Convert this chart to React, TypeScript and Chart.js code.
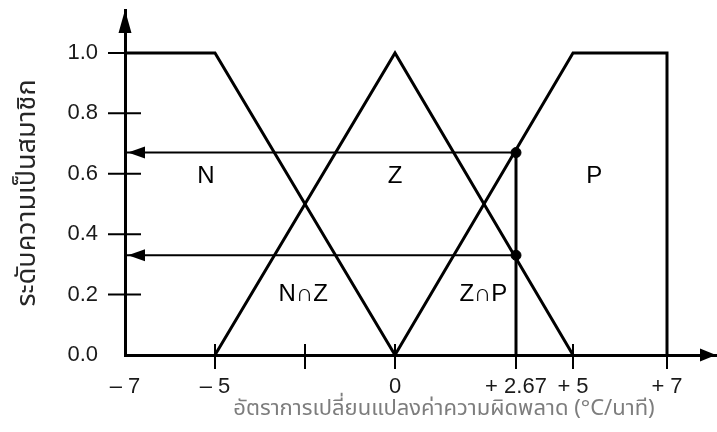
import React, { useEffect, useRef } from 'react';
import { Chart, LinearScale, registerables } from 'chart.js';

// Fuzzy sets for the rate of change of the error (°C/min)
const N_X = [-7, -5, 0];
const N_MU = [1, 1, 0];
const Z_X = [-5, 0, 5];
const Z_MU = [0, 1, 0];
const P_X = [0, 5, 7, 7];
const P_MU = [0, 1, 1, 0];

// Crisp input and the membership degrees it produces (μP, μZ)
const INPUT_X = 2.67;
const INPUT_MU = [0.67, 0.33];

// Axis ticks
const X_TICKS = [-7, -5, -2.5, 0, 2.67, 5, 7];
const X_TICK_LABELS = ['– 7', '– 5', '', '0', '+ 2.67', '+ 5', '+ 7'];
const Y_TICKS = [0, 0.2, 0.4, 0.6, 0.8, 1.0];
const Y_TICK_LABELS = ['0.0', '0.2', '0.4', '0.6', '0.8', '1.0'];

// Set names written inside the diagram
const SET_NAMES = ['N', 'Z', 'P', 'N∩Z', 'Z∩P'];
const SET_NAME_AT = [
  [-5.2, 0.59],
  [0, 0.59],
  [5.45, 0.59],
  [-2.55, 0.2],
  [1.95, 0.2],
];

const X_TITLE = 'อัตราการเปลี่ยนแปลงค่าความผิดพลาด (°C/นาที)';
const Y_TITLE = 'ระดับความเป็นสมาชิก';

// The x axis is a schematic one: each segment between these knots gets its own length
const X_AXIS_KNOTS = [-7, -5, 0, 2.67, 5, 7, 8];
const X_AXIS_STRETCH = [0, 90, 270, 391, 448, 542, 592];

function valueToDecimal(v: number) {
  const k = X_AXIS_KNOTS;
  const s = X_AXIS_STRETCH;
  const total = s[s.length - 1];
  let i = 0;
  while (i < k.length - 2 && v > k[i + 1]) i++;
  const t = (v - k[i]) / (k[i + 1] - k[i]);
  return (s[i] + t * (s[i + 1] - s[i])) / total;
}

function decimalToValue(d: number) {
  const k = X_AXIS_KNOTS;
  const s = X_AXIS_STRETCH;
  const total = s[s.length - 1];
  const p = d * total;
  let i = 0;
  while (i < s.length - 2 && p > s[i + 1]) i++;
  const t = (p - s[i]) / (s[i + 1] - s[i]);
  return k[i] + t * (k[i + 1] - k[i]);
}

class SchematicScale extends LinearScale {
  static id = 'schematic';
  static defaults = LinearScale.defaults;
  getPixelForValue(value: number) {
    if (value === null || value === undefined) return NaN;
    return this.getPixelForDecimal(valueToDecimal(value));
  }
  getValueForPixel(pixel: number) {
    return decimalToValue(this.getDecimalForPixel(pixel));
  }
}

Chart.register(...registerables, SchematicScale);

const LABEL_FONT = '"Liberation Sans", Arial, sans-serif';
const THAI_FONT = '"Noto Sans Thai", "Noto Sans Thai UI", "Leelawadee UI", Tahoma, "DejaVu Sans", sans-serif';

const pts = (xs: number[], ys: number[]) => xs.map((x, i) => ({ x, y: ys[i] }));

function arrowHead(ctx: CanvasRenderingContext2D, tipX: number, tipY: number, dx: number, dy: number, len: number, half: number) {
  // dx, dy: unit direction the arrow points to
  const bx = tipX - dx * len;
  const by = tipY - dy * len;
  ctx.beginPath();
  ctx.moveTo(tipX, tipY);
  ctx.lineTo(bx - dy * half, by + dx * half);
  ctx.lineTo(bx + dy * half, by - dx * half);
  ctx.closePath();
  ctx.fill();
}

const diagramDecor = {
  id: 'diagramDecor',
  afterDatasetsDraw(chart: any) {
    const { ctx, chartArea, scales } = chart;
    const xs = scales.x;
    const ys = scales.y;
    const x0 = xs.getPixelForValue(X_TICKS[0]);
    const y0 = ys.getPixelForValue(0);
    ctx.save();
    ctx.strokeStyle = '#000';
    ctx.fillStyle = '#000';

    // tick marks crossing the axes
    ctx.lineWidth = 2;
    Y_TICKS.forEach((v) => {
      if (v === 0) return;
      const y = ys.getPixelForValue(v);
      ctx.beginPath();
      ctx.moveTo(x0 - 17, y);
      ctx.lineTo(x0 + 16, y);
      ctx.stroke();
    });
    X_TICKS.forEach((v) => {
      if (v === X_TICKS[0]) return;
      const x = xs.getPixelForValue(v);
      ctx.beginPath();
      ctx.moveTo(x, y0 - 11);
      ctx.lineTo(x, y0 + 14);
      ctx.stroke();
    });

    // axis arrow heads
    arrowHead(ctx, x0, chartArea.top, 0, -1, 23, 6.5);
    arrowHead(ctx, chartArea.right - 1, y0, 1, 0, 16, 6.5);

    // arrow heads of the projections onto the membership axis
    INPUT_MU.forEach((mu) => {
      arrowHead(ctx, x0 + 3, ys.getPixelForValue(mu), -1, 0, 17, 6);
    });

    // set names
    ctx.font = `24px ${LABEL_FONT}`;
    ctx.textAlign = 'center';
    ctx.textBaseline = 'middle';
    SET_NAMES.forEach((name, i) => {
      const [vx, vy] = SET_NAME_AT[i];
      ctx.fillText(name, xs.getPixelForValue(vx), ys.getPixelForValue(vy));
    });

    // axis titles
    ctx.fillStyle = '#7d7d7d';
    ctx.font = `22px ${THAI_FONT}`;
    ctx.fillText(X_TITLE, 444, 411);

    ctx.fillStyle = '#262626';
    ctx.font = `27px ${THAI_FONT}`;
    ctx.translate(30, 193);
    ctx.rotate(-Math.PI / 2);
    ctx.fillText(Y_TITLE, 0, 0);
    ctx.restore();
  },
};

export default function App() {
  const canvasRef = useRef<HTMLCanvasElement>(null);

  useEffect(() => {
    const canvas = canvasRef.current;
    if (!canvas) return;

    const line = (data: any[], width: number) => ({
      type: 'line',
      data,
      borderColor: '#000',
      backgroundColor: '#000',
      borderWidth: width,
      pointRadius: 0,
      tension: 0,
      fill: false,
    });

    const chart = new Chart(canvas, {
      type: 'line',
      data: {
        datasets: [
          line(pts(N_X, N_MU), 3),
          line(pts(Z_X, Z_MU), 3),
          line(pts(P_X, P_MU), 3),
          // crisp input line up to its highest membership
          line(pts([INPUT_X, INPUT_X], [0, INPUT_MU[0]]), 3),
          // projections to the membership axis
          ...INPUT_MU.map((mu) => line(pts([INPUT_X, X_TICKS[0]], [mu, mu]), 2)),
          {
            type: 'scatter',
            data: INPUT_MU.map((mu) => ({ x: INPUT_X, y: mu })),
            backgroundColor: '#000',
            borderColor: '#000',
            pointRadius: 5,
            showLine: false,
          },
        ] as any,
      },
      options: {
        animation: false,
        responsive: false,
        devicePixelRatio: 1,
        layout: { autoPadding: false, padding: { top: 10, right: 0, left: 0, bottom: 0 } },
        plugins: {
          legend: { display: false },
          tooltip: { enabled: false },
        },
        scales: {
          x: {
            type: 'schematic' as any,
            min: -7,
            max: 8,
            grid: { display: false },
            border: { display: true, color: '#000', width: 3 },
            afterBuildTicks: (scale: any) => {
              scale.ticks = X_TICKS.map((value) => ({ value }));
            },
            afterFit: (scale: any) => {
              scale.height = 77;
              scale.paddingLeft = 0;
              scale.paddingRight = 0;
            },
            ticks: {
              autoSkip: false,
              maxRotation: 0,
              padding: 11,
              color: '#1a1a1a',
              font: { family: LABEL_FONT, size: 22 },
              callback: (_v: any, i: number) => X_TICK_LABELS[i],
            },
          },
          y: {
            type: 'linear',
            min: 0,
            max: 1.142,
            grid: { display: false },
            border: { display: true, color: '#000', width: 3 },
            afterBuildTicks: (scale: any) => {
              scale.ticks = Y_TICKS.map((value) => ({ value }));
            },
            afterFit: (scale: any) => {
              scale.width = 125;
              scale.paddingTop = 0;
              scale.paddingBottom = 0;
            },
            ticks: {
              autoSkip: false,
              padding: 19,
              color: '#1a1a1a',
              font: { family: LABEL_FONT, size: 22 },
              callback: (_v: any, i: number) => Y_TICK_LABELS[i],
            },
          },
        },
      },
      plugins: [diagramDecor],
    } as any);

    return () => chart.destroy();
  }, []);

  return (
    <div style={{ position: 'absolute', left: 0, top: 0, width: 717, height: 432, background: '#fff' }}>
      <canvas ref={canvasRef} width={717} height={432} />
    </div>
  );
}
